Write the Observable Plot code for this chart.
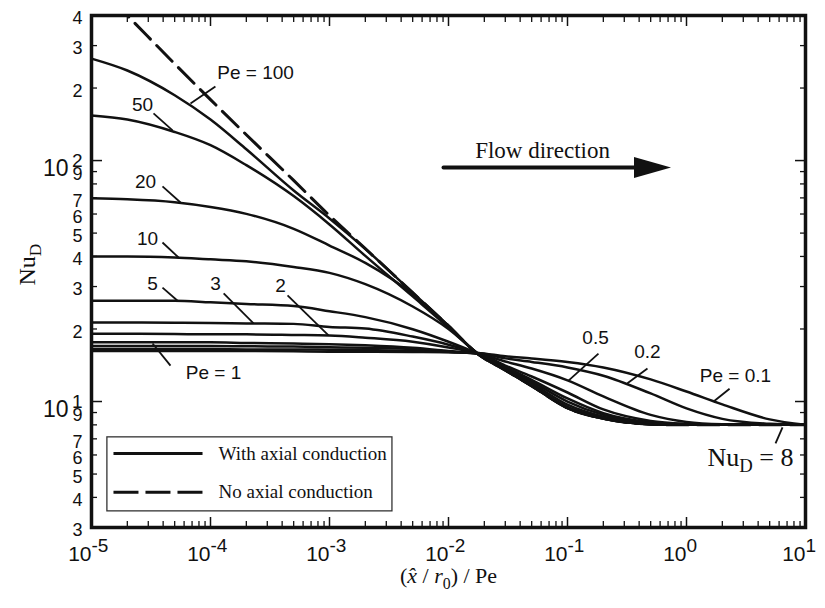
<!DOCTYPE html>
<html><head><meta charset="utf-8">
<script src="https://cdn.jsdelivr.net/npm/d3@7"></script>
<script src="https://cdn.jsdelivr.net/npm/@observablehq/plot@0.6"></script>
<style>body{margin:0;background:#fff}#chart svg{display:block}</style>
</head><body><div id="chart"></div>
<script>
// ---- data ----
const xGrid = [1e-5, 2e-5, 5e-5, 1e-4, 2e-4, 5e-4, 1e-3, 2e-3, 5e-3, 1e-2, 1.75e-2, 3e-2, 5e-2, 0.1, 0.2, 0.5, 1, 2, 5, 10];
const nuNoAxial = [566, 400, 252, 179, 128, 82.7, 59.1, 43.1, 28.3, 20.6, 15.8, 13.5, 11.6, 9.4, 8.5, 8.05, 8, 8, 8, 8];
const nuPe100 = [265, 236.5, 186.7, 148, 111.4, 75.1, 57.5, 43.0, 28.3, 20.6, 15.8, 13.5, 11.6, 9.4, 8.5, 8.05, 8, 8, 8, 8];
const nuPe50 = [153.8, 148, 131.4, 115.8, 95.7, 71.2, 54.3, 40.2, 27.3, 20.3, 15.8, 13.5, 11.6, 9.4, 8.5, 8.05, 8, 8, 8, 8];
const nuPe20 = [69.7, 69.1, 67.2, 64.2, 60.1, 52.1, 44.4, 37.6, 27.9, 20.6, 15.8, 13.5, 11.6, 9.4, 8.5, 8.05, 8, 8, 8, 8];
const nuPe10 = [40.0, 40.0, 39.6, 38.9, 38.2, 36.2, 34.2, 30.7, 24.8, 20.0, 15.9, 13.6, 11.7, 9.5, 8.55, 8.06, 8, 8, 8, 8];
const nuPe5 = [26.2, 26.2, 26.2, 25.8, 25.4, 24.9, 23.7, 22.4, 19.96, 17.7, 15.8, 13.7, 11.9, 9.7, 8.65, 8.1, 8, 8, 8, 8];
const nuPe3 = [21.3, 21.3, 21.25, 21.2, 21.1, 21.0, 20.4, 20.1, 18.6, 17.2, 15.8, 13.8, 12.1, 10.0, 8.8, 8.15, 8.02, 8, 8, 8];
const nuPe2 = [19.1, 19.1, 19.05, 19.0, 19.0, 18.9, 18.8, 18.4, 17.7, 16.75, 15.8, 13.9, 12.3, 10.3, 8.95, 8.2, 8.04, 8, 8, 8];
const nuPe1 = [17.6, 17.6, 17.6, 17.6, 17.5, 17.4, 17.3, 17.1, 16.7, 16.2, 15.8, 14.1, 12.7, 10.9, 9.27, 8.31, 8.08, 8.01, 8, 8];
const nuPe05 = [17.0, 17.0, 17.0, 17.0, 16.95, 16.9, 16.8, 16.7, 16.5, 16.1, 15.8, 14.66, 13.7, 12.24, 10.5, 8.8, 8.23, 8.05, 8, 8];
const nuPe02 = [16.5, 16.5, 16.5, 16.5, 16.45, 16.45, 16.4, 16.35, 16.2, 16.05, 15.9, 15.1, 14.6, 13.85, 12.8, 10.8, 9.36, 8.47, 8.08, 8];
const nuPe01 = [16.2, 16.2, 16.2, 16.2, 16.2, 16.15, 16.1, 16.1, 16.05, 16.0, 15.9, 15.4, 15.1, 14.6, 13.85, 12.35, 11.0, 9.73, 8.43, 8];

const peNames = ["100", "50", "20", "10", "5", "3", "2", "1", "0.5", "0.2", "0.1"];
const peSeries = [nuPe100, nuPe50, nuPe20, nuPe10, nuPe5, nuPe3, nuPe2, nuPe1, nuPe05, nuPe02, nuPe01];

// axis ticks / labels
const xMajor = [1e-5, 1e-4, 1e-3, 1e-2, 1e-1, 1, 10];
const xExponents = ["-5", "-4", "-3", "-2", "-1", "0", "1"];
const xMinor = xMajor.slice(0, -1).flatMap(d => [2,3,4,5,6,7,8,9].map(k => k * d));
const yMajor = [10, 100];
const yExponents = ["1", "2"];
const yMinor = [3,4,5,6,7,8,9, 20,30,40,50,60,70,80,90, 200,300,400];
const yLabelValues = [3,4,5,6,7,9, 20,30,40,50,60,70,90, 200,300,400];
const yLabelTexts = ["3","4","5","6","7","9", "2","3","4","5","6","7","9", "2","3","4"];

// annotations (data coordinates)
const peLabels = ["Pe = 100", "50", "20", "10", "5", "3", "2", "Pe = 1", "0.5", "0.2", "Pe = 0.1"];
const peLabelX = [2.39e-4, 2.68e-5, 2.84e-5, 2.96e-5, 3.26e-5, 1.10e-4, 3.87e-4, 1.06e-4, 0.172, 0.470, 2.58];
const peLabelY = [232, 171, 81.2, 47.5, 30.9, 30.9, 30.3, 13.1, 18.3, 16.0, 12.8];
const leadX1 = [6.79e-5, 3.32e-5, 3.95e-5, 3.95e-5, 3.95e-5, 1.29e-4, 4.44e-4, 3.26e-5, 0.182, 0.470, 2.30, 5.60];
const leadY1 = [172.6, 156.9, 78.1, 45.7, 29.7, 28.1, 27.6, 17.4, 15.8, 13.7, 11.3, 6.70];
const leadX2 = [1.10e-4, 4.80e-5, 5.60e-5, 5.39e-5, 5.29e-5, 2.30e-4, 9.81e-4, 4.61e-5, 0.102, 0.319, 1.69, 6.41];
const leadY2 = [202.9, 133.4, 67.0, 39.6, 26.2, 21.1, 18.8, 14.1, 12.2, 11.9, 10.0, 7.81];

// ---- build tables ----
const curves = peNames.flatMap((pe, i) => xGrid.map((x, j) => ({pe, x, y: peSeries[i][j]})));
const dashed = xGrid.map((x, j) => ({x, y: nuNoAxial[j]}));
const labels = peLabels.map((t, i) => ({t, x: peLabelX[i], y: peLabelY[i]}));
const leaders = leadX1.map((x1, i) => ({x1, y1: leadY1[i], x2: leadX2[i], y2: leadY2[i]}));
const legendBox = [{x1: 1.36e-5, x2: 3.38e-3, y1: 3.50, y2: 7.10}];
const legendSolid = [{x1: 1.53e-5, x2: 8.57e-5, y: 6.09, t: "With axial conduction"}];
const legendDashed = [{x1: 1.53e-5, x2: 8.57e-5, y: 4.20, t: "No axial conduction"}];
const flowArrow = [{x1: 9.08e-3, x2: 0.41, xh: 0.513, y: 93.6, tx: 0.0617, ty: 110.2}];
const nuEight = [{x: 3.45, y: 5.86}];

const arrowHead = {draw(ctx) { ctx.moveTo(19, 0); ctx.lineTo(-18, -10.5); ctx.lineTo(-18, 10.5); ctx.closePath(); }};
const ink = "#111";
const serif = "Liberation Serif";

const chart = Plot.plot({
  width: 825, height: 608,
  marginLeft: 91, marginRight: 20, marginTop: 15, marginBottom: 81,
  x: {type: "log", domain: [1e-5, 10], axis: null},
  y: {type: "log", domain: [3, 400], axis: null},
  style: {fontFamily: "Liberation Sans", color: ink, background: "white", overflow: "visible"},
  marks: [
    // legend box
    Plot.rect(legendBox, {x1: "x1", x2: "x2", y1: "y1", y2: "y2", fill: "white", stroke: "#333", strokeWidth: 1.3}),
    Plot.link(legendSolid, {x1: "x1", x2: "x2", y1: "y", y2: "y", stroke: ink, strokeWidth: 3}),
    Plot.link(legendDashed, {x1: "x1", x2: "x2", y1: "y", y2: "y", stroke: ink, strokeWidth: 3, strokeDasharray: "25,7"}),
    Plot.text([...legendSolid, ...legendDashed], {x: () => 1.17e-4, y: "y", text: "t", textAnchor: "start", fontFamily: serif, fontSize: 19, fill: ink}),
    // curves
    Plot.line(dashed, {x: "x", y: "y", stroke: ink, strokeWidth: 3, strokeDasharray: "22,9", curve: "monotone-x", clip: true}),
    Plot.line(curves, {x: "x", y: "y", z: "pe", stroke: ink, strokeWidth: 2.5, curve: "monotone-x", clip: true}),
    // leaders and labels
    Plot.link(leaders, {x1: "x1", y1: "y1", x2: "x2", y2: "y2", stroke: ink, strokeWidth: 1.8}),
    Plot.text(labels, {x: "x", y: "y", text: "t", fontSize: 19, fill: ink}),
    Plot.text(nuEight, {x: "x", y: "y", text: () => "NuD = 8", fontFamily: serif, fontSize: 26, fill: ink}),
    // flow direction arrow
    Plot.link(flowArrow, {x1: "x1", x2: "x2", y1: "y", y2: "y", stroke: ink, strokeWidth: 4, strokeLinecap: "round"}),
    Plot.dot(flowArrow, {x: "xh", y: "y", symbol: arrowHead, fill: ink, stroke: "none"}),
    Plot.text(flowArrow, {x: "tx", y: "ty", text: () => "Flow direction", fontFamily: serif, fontSize: 23, fill: ink}),
    // ticks (inward) on four sides
    Plot.axisX({anchor: "bottom", ticks: xMajor, tickSize: -10, fill: "none", stroke: ink, strokeWidth: 1.5}),
    Plot.axisX({anchor: "bottom", ticks: xMinor, tickSize: -6, fill: "none", stroke: ink, strokeWidth: 1.3}),
    Plot.axisX({anchor: "top", ticks: xMajor, tickSize: -10, fill: "none", stroke: ink, strokeWidth: 1.5}),
    Plot.axisX({anchor: "top", ticks: xMinor, tickSize: -6, fill: "none", stroke: ink, strokeWidth: 1.3}),
    Plot.axisY({anchor: "left", ticks: yMajor, tickSize: -11, fill: "none", stroke: ink, strokeWidth: 1.5}),
    Plot.axisY({anchor: "left", ticks: yMinor, tickSize: -6, fill: "none", stroke: ink, strokeWidth: 1.3}),
    Plot.axisY({anchor: "right", ticks: yMajor, tickSize: -11, fill: "none", stroke: ink, strokeWidth: 1.5}),
    Plot.axisY({anchor: "right", ticks: yMinor, tickSize: -6, fill: "none", stroke: ink, strokeWidth: 1.3}),
    // tick labels
    Plot.text(xMajor, {x: d => d, frameAnchor: "bottom", text: () => "10", textAnchor: "end", dy: 33, fontSize: 21, fill: ink}),
    Plot.text(xMajor, {x: d => d, frameAnchor: "bottom", text: (d, i) => xExponents[i], textAnchor: "start", dy: 24, fontSize: 19, fill: ink}),
    Plot.text(yLabelValues, {y: d => d, frameAnchor: "left", text: (d, i) => yLabelTexts[i], textAnchor: "end", dx: -9, dy: 3, fontSize: 18, fill: ink}),
    Plot.text(yMajor, {y: d => d, frameAnchor: "left", text: () => "10", textAnchor: "end", dx: -23, dy: 8, fontSize: 23, fill: ink}),
    Plot.text(yMajor, {y: d => d, frameAnchor: "left", text: (d, i) => yExponents[i], textAnchor: "end", dx: -9, dy: 0, fontSize: 19, fill: ink}),
    // axis titles
    Plot.text(["NuD"], {frameAnchor: "left", dx: -64, dy: 14, rotate: -90, fontFamily: serif, fontSize: 24, fill: ink}),
    Plot.text(["(x / r0) / Pe"], {frameAnchor: "bottom", dy: 55, fontFamily: serif, fontSize: 22, fill: ink}),
    Plot.frame({stroke: ink, strokeWidth: 3.5})
  ]
});

function rich(root, key, parts) {
  d3.select(root).selectAll("text").filter(function() { return this.textContent === key; }).each(function() {
    const t = d3.select(this);
    t.text(null);
    let down = 0;
    for (const p of parts) {
      const s = t.append("tspan").text(p.t);
      if (p.i) s.attr("font-style", "italic");
      const want = p.sub ? 6 : 0;
      if (want !== down) { s.attr("dy", want - down); down = want; }
      if (p.sub) s.style("font-size", "72%");
    }
  });
}
rich(chart, "NuD", [{t: "Nu"}, {t: "D", sub: true}]);
rich(chart, "NuD = 8", [{t: "Nu"}, {t: "D", sub: true}, {t: " = 8"}]);
rich(chart, "(x / r0) / Pe", [{t: "("}, {t: "x\u0302", i: true}, {t: " / "}, {t: "r", i: true}, {t: "0", sub: true}, {t: ") / Pe"}]);

document.getElementById("chart").appendChild(chart);
</script>
</body></html>
